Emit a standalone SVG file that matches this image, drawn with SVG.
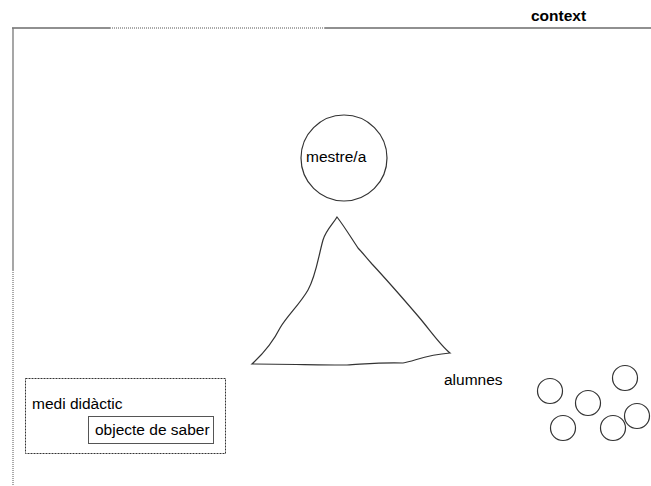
<svg xmlns="http://www.w3.org/2000/svg" width="651" height="486" viewBox="0 0 651 486">
  <style>
    text { font-family: "Liberation Sans", Arial, sans-serif; font-size: 15.5px; fill: #000; }
    .bold { font-weight: bold; }
    .frame { stroke: #222; stroke-width: 1.2; fill: none; }
    .dots { stroke: #555; stroke-width: 1; stroke-dasharray: 1 1; fill: none; }
    .shape { stroke: #333; stroke-width: 1.2; fill: #fff; }
    .pupil { stroke: #333; stroke-width: 1.2; fill: none; }
  </style>
  <rect width="651" height="486" fill="#fff"/>

  <!-- context frame -->
  <g id="context">
    <line class="frame" x1="12" y1="28" x2="110" y2="28"/>
    <line class="dots" x1="110" y1="28" x2="325" y2="28"/>
    <line class="frame" x1="325" y1="28" x2="651" y2="28"/>
    <line x1="13" y1="28" x2="13" y2="270" stroke="#777" stroke-width="1.3"/>
    <line class="dots" x1="13" y1="270" x2="13" y2="486"/>
    <text class="bold" x="531" y="21">context</text>
  </g>

  <!-- teacher -->
  <g id="mestre">
    <circle class="shape" cx="344" cy="158" r="43"/>
    <text x="306" y="162">mestre/a</text>
  </g>

  <!-- didactic triangle, hand-drawn -->
  <g id="triangle">
    <path class="pupil" d="M337,217 C333,224 326,230 323,240 C318,258 316,276 308,290 C300,304 287,316 280,328 C274,340 265,352 252,364 C285,364 320,365 347,365 C365,364 385,362 403,363 C415,361 425,355 450,353 C440,345 430,330 418,316 C400,295 385,278 372,264 C365,256 361,251 358,248 C350,236 344,226 337,217 Z"/>
  </g>

  <!-- pupils -->
  <g id="alumnes">
    <text x="444" y="385">alumnes</text>
    <circle class="pupil" cx="550" cy="391" r="12.5"/>
    <circle class="pupil" cx="588" cy="403" r="12.5"/>
    <circle class="pupil" cx="625" cy="378" r="12.5"/>
    <circle class="pupil" cx="563" cy="428" r="12.5"/>
    <circle class="pupil" cx="613" cy="428" r="12.5"/>
    <circle class="pupil" cx="637" cy="416" r="12.5"/>
  </g>

  <!-- didactic environment -->
  <g id="medi">
    <rect x="25.5" y="378.5" width="200" height="75" fill="none" stroke="#333" stroke-width="1" stroke-dasharray="2 1"/>
    <text x="32" y="409">medi didàctic</text>
  </g>
  <g id="objecte">
    <rect x="88.5" y="416.5" width="125" height="27" fill="#fff" stroke="#555" stroke-width="1"/>
    <text x="95" y="435">objecte de saber</text>
  </g>
</svg>
